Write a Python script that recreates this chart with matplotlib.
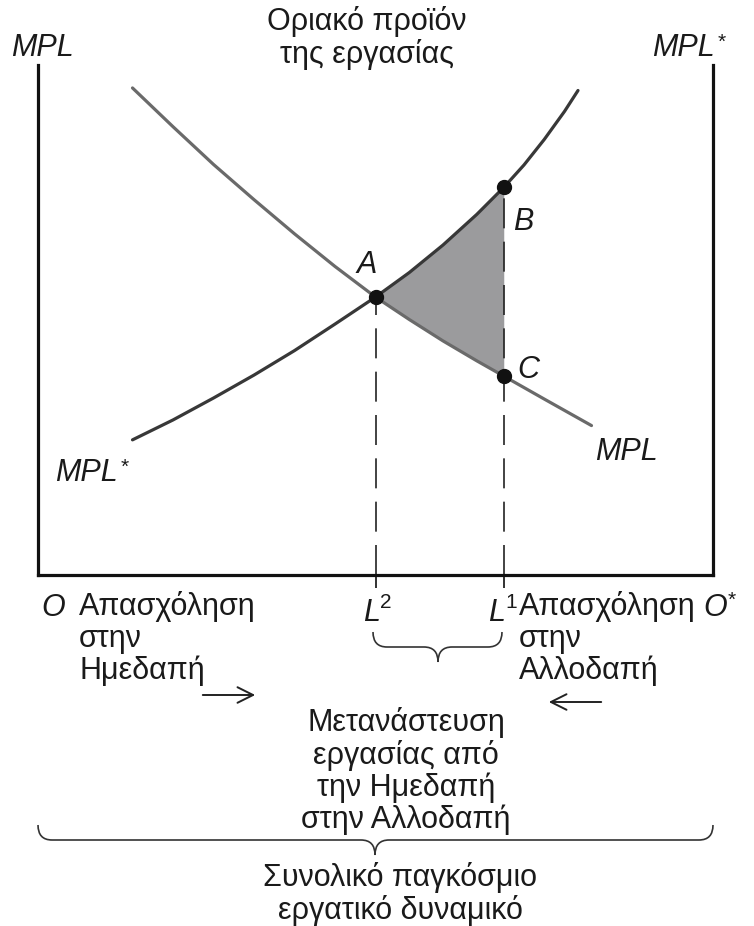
import matplotlib
matplotlib.use("Agg")
import matplotlib.pyplot as plt
from matplotlib.path import Path
from matplotlib.patches import PathPatch, FancyArrowPatch

plt.rcParams['font.family'] = ['Liberation Sans', 'DejaVu Sans']

# labour axis runs 0 (O) .. 100 (O*), marginal product 0..100 (arbitrary units)
mpl_x = [14, 20, 26, 32, 38, 44, 50, 55, 60, 65, 69, 75, 82]
mpl_y = [95.5, 87.9, 80.5, 73.6, 66.9, 60.5, 54.5, 50.1, 45.9, 42.0, 39, 34.5, 29.3]
mpls_x = [14, 20, 26, 32, 38, 44, 50, 55, 60, 65, 69, 72, 75, 78, 80]
mpls_y = [26.5, 30.4, 34.7, 39.2, 44.0, 49.2, 54.5, 59.3, 64.7, 70.7, 76, 80.4, 85.4, 90.9, 95]

L2 = 50
L1 = 69
pts_x = [50, 69, 69]          # A, B, C
pts_y = [54.5, 76, 39]

W, H = 754, 926
fig = plt.figure(figsize=(W / 100, H / 100), dpi=100)
ax = fig.add_axes([38 / W, 1 - 575 / H, (713 - 38) / W, (575 - 65) / H])
ax.set_xlim(0, 100)
ax.set_ylim(0, 100)
ax.spines['top'].set_visible(False)
for s in ['left', 'right', 'bottom']:
    ax.spines[s].set_linewidth(2.3)
    ax.spines[s].set_color('#111111')
ax.set_yticks([])
ax.set_xticks([L2, L1])
ax.set_xticklabels([])
ax.tick_params(axis='x', direction='out', length=9, width=1.3, color='#222222')


def px(x, y):
    return x / W, 1 - y / H


# shaded area between the curves, from L2 to L1
fx = [x for x in mpls_x if L2 <= x <= L1]
top = [y for x, y in zip(mpls_x, mpls_y) if L2 <= x <= L1]
bot = [y for x, y in zip(mpl_x, mpl_y) if L2 <= x <= L1]
ax.fill_between(fx, bot, top, color='#9b9b9d', lw=0)

ax.vlines([L2, L1], 0, [pts_y[0], pts_y[1]], colors='#222222', lw=1.2,
          linestyles=[(0, (18, 8))])

ax.plot(mpl_x, mpl_y, color='#6a6a6a', lw=2.3, solid_capstyle='round')
ax.plot(mpls_x, mpls_y, color='#383838', lw=2.3, solid_capstyle='round')
ax.plot(pts_x, pts_y, 'o', color='#111111', ms=10, clip_on=False)

fs = 22
itk = dict(fontsize=fs, style='italic', color='#1a1a1a', ha='center', va='center')
txk = dict(fontsize=fs, color='#1a1a1a', linespacing=1.08)
supk = dict(fontsize=15, color='#1a1a1a', ha='left', va='center')

fig.text(*px(367, 265), 'A', **itk)
fig.text(*px(523, 222), 'B', **itk)
fig.text(*px(528, 370), 'C', **itk)
fig.text(*px(42, 48), 'MPL', **itk)
fig.text(*px(683, 48), 'MPL', **itk)
fig.text(*px(718, 42), '*', **supk)
fig.text(*px(86, 473), 'MPL', **itk)
fig.text(*px(121, 467), '*', **supk)
fig.text(*px(626, 452), 'MPL', **itk)
fig.text(*px(53, 608), 'O', **itk)
fig.text(*px(715, 608), 'O', **itk)
fig.text(*px(728, 600), '*', **supk)
fig.text(*px(372, 613), 'L', **itk)
fig.text(*px(380, 603), '2', **supk)
fig.text(*px(497, 613), 'L', **itk)
fig.text(*px(505, 603), '1', **supk)

fig.text(*px(367, 38), 'Οριακό προϊόν\nτης εργασίας', ha='center', va='center', **txk)
fig.text(*px(79, 591), 'Απασχόληση\nστην\nΗμεδαπή', ha='left', va='top', **txk)
fig.text(*px(519, 591), 'Απασχόληση\nστην\nΑλλοδαπή', ha='left', va='top', **txk)
fig.text(*px(406, 771), 'Μετανάστευση\nεργασίας από\nτην Ημεδαπή\nστην Αλλοδαπή',
         ha='center', va='center', **txk)
fig.text(*px(400, 894), 'Συνολικό παγκόσμιο\nεργατικό δυναμικό',
         ha='center', va='center', **txk)

ak = dict(arrowstyle='->,head_length=0.8,head_width=0.4', lw=1.4, color='#222222')
fig.add_artist(FancyArrowPatch(px(200, 695), px(258, 695),
               transform=fig.transFigure, mutation_scale=14, **ak))
fig.add_artist(FancyArrowPatch(px(604, 702), px(546, 702),
               transform=fig.transFigure, mutation_scale=14, **ak))


def brace(x0, x1, xc, ytop, ymid, ybot, r):
    verts = [px(x0, ytop), px(x0, ymid), px(x0 + r, ymid),
             px(xc - r, ymid), px(xc, ymid), px(xc, ybot),
             px(xc, ymid), px(xc + r, ymid),
             px(x1 - r, ymid), px(x1, ymid), px(x1, ytop)]
    codes = [Path.MOVETO, Path.CURVE3, Path.CURVE3,
             Path.LINETO, Path.CURVE3, Path.CURVE3,
             Path.CURVE3, Path.CURVE3,
             Path.LINETO, Path.CURVE3, Path.CURVE3]
    fig.add_artist(PathPatch(Path(verts, codes), fc='none', ec='#333333', lw=1.2,
                             transform=fig.transFigure))


brace(373, 502, 438, 632, 647, 662, 14)
brace(38, 713, 375, 825, 840, 855, 14)

fig.savefig('out.png', dpi=100)
